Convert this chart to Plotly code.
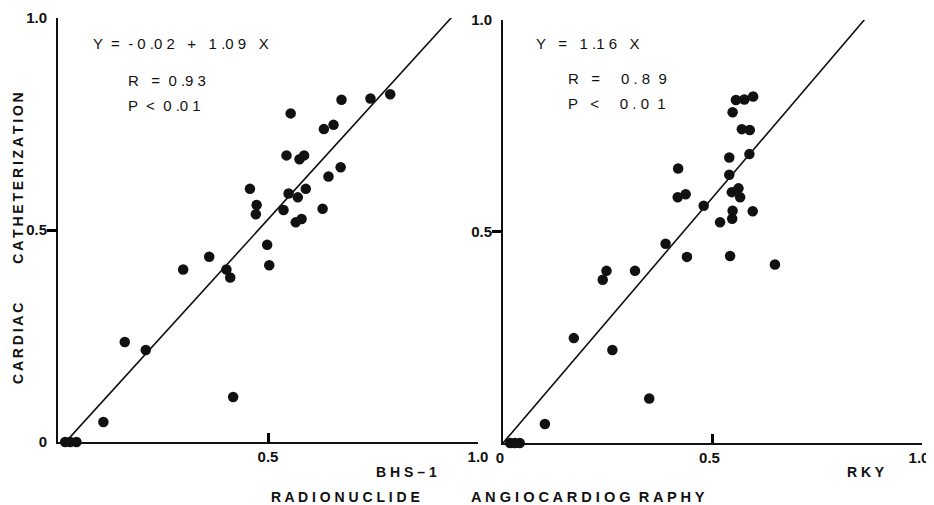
import plotly.graph_objects as go

# Left panel: BHS-1 radionuclide vs cardiac catheterization
bhs_x = [0.017, 0.029, 0.044, 0.108, 0.159, 0.209, 0.298, 0.360, 0.401, 0.410, 0.417,
         0.498, 0.503, 0.457, 0.473, 0.471, 0.537, 0.549, 0.571, 0.590, 0.566, 0.580,
         0.630, 0.544, 0.575, 0.586, 0.644, 0.673, 0.633, 0.656, 0.554, 0.675, 0.744, 0.791]
bhs_y = [0.0, 0.0, 0.0, 0.047, 0.236, 0.217, 0.407, 0.437, 0.407, 0.388, 0.106,
         0.465, 0.417, 0.597, 0.559, 0.537, 0.547, 0.586, 0.577, 0.597, 0.518, 0.526,
         0.550, 0.676, 0.667, 0.676, 0.626, 0.648, 0.738, 0.748, 0.775, 0.807, 0.810, 0.820]

# Right panel: RKY vs cardiac catheterization
rky_x = [0.017, 0.028, 0.040, 0.100, 0.169, 0.261, 0.238, 0.247, 0.315, 0.349, 0.388,
         0.439, 0.542, 0.649, 0.417, 0.436, 0.418, 0.479, 0.518, 0.547, 0.548, 0.596,
         0.546, 0.562, 0.566, 0.540, 0.540, 0.588, 0.570, 0.589, 0.548, 0.556, 0.576, 0.597]
rky_y = [0.0, 0.0, 0.0, 0.045, 0.248, 0.220, 0.386, 0.407, 0.407, 0.105, 0.471,
         0.440, 0.442, 0.422, 0.581, 0.588, 0.649, 0.561, 0.522, 0.530, 0.549, 0.548,
         0.593, 0.602, 0.581, 0.634, 0.675, 0.683, 0.742, 0.740, 0.782, 0.811, 0.812, 0.819]

# Regression fits
left_intercept, left_slope = -0.02, 1.09
right_intercept, right_slope = 0.0, 1.16
left_fit_x = [0.018, 0.94]
right_fit_x = [0.0, 0.88]

# Tick labels per axis
left_x_ticks, left_x_text = [0.5, 1.0], ["0.5", "1.0"]
left_y_ticks, left_y_text = [0, 0.5, 1.0], ["0", "0.5", "1.0"]
right_x_ticks, right_x_text = [0, 0.5, 1.0], ["0", "0.5", "1.0"]
right_y_ticks, right_y_text = [0.5, 1.0], ["0.5", "1.0"]
y_out_ticks = [0.5]     # ticks pointing outward on y axes
y_in_ticks = [1.0]      # top tick pointing inward (corner mark)

fig = go.Figure()
ink = "#111111"

fig.add_trace(go.Scatter(x=bhs_x, y=bhs_y, mode="markers", xaxis="x", yaxis="y",
                         marker=dict(size=10.5, color=ink), cliponaxis=False, showlegend=False))
fig.add_trace(go.Scatter(x=left_fit_x, y=[left_intercept + left_slope * v for v in left_fit_x],
                         mode="lines", xaxis="x", yaxis="y", line=dict(color=ink, width=1.6),
                         cliponaxis=False, showlegend=False))
fig.add_trace(go.Scatter(x=rky_x, y=rky_y, mode="markers", xaxis="x2", yaxis="y2",
                         marker=dict(size=10.5, color=ink), cliponaxis=False, showlegend=False))
fig.add_trace(go.Scatter(x=right_fit_x, y=[right_intercept + right_slope * v for v in right_fit_x],
                         mode="lines", xaxis="x2", yaxis="y2", line=dict(color=ink, width=1.6),
                         cliponaxis=False, showlegend=False))
# empty traces so the tick-only overlay axes get drawn
for xa, ya in [("x", "y3"), ("x", "y4"), ("x2", "y5"), ("x2", "y6")]:
    fig.add_trace(go.Scatter(x=[None], y=[None], xaxis=xa, yaxis=ya, mode="markers",
                             hoverinfo="skip", showlegend=False))

# Page has an 8px body margin; figure sized to fill the rest of the 934x505 window
OFF = 8
W, H = 934 - OFF, 505 - OFF


def fx(px):
    return (px - OFF) / W


def fy(py):
    return 1 - (py - OFF) / H


tickfont = dict(family="Liberation Sans, Arial, sans-serif", size=15, color=ink)
axcommon = dict(range=[0, 1.0], showgrid=False, zeroline=False, showline=True,
                linecolor=ink, linewidth=2, ticklen=9, tickwidth=2.5, tickcolor="black",
                tickfont=tickfont, automargin=False, layer="above traces")
overlay = dict(range=[0, 1.0], showgrid=False, zeroline=False, showline=False,
               showticklabels=False, ticklen=10, tickwidth=2.5, tickcolor="black",
               automargin=False, tickmode="array")


def bold(lst):
    return ["<b>%s</b>" % s for s in lst]


fig.update_layout(
    width=W, height=H,
    margin=dict(l=0, r=0, t=0, b=0, autoexpand=False),
    paper_bgcolor="white", plot_bgcolor="white",
    xaxis=dict(domain=[fx(58), fx(478)], anchor="y", ticks="inside", tickmode="array",
               tickvals=left_x_ticks, ticktext=bold(left_x_text), **axcommon),
    yaxis=dict(domain=[fy(442), fy(18)], anchor="x", ticks="", ticklabelstandoff=6,
               tickmode="array", tickvals=left_y_ticks, ticktext=bold(left_y_text), **axcommon),
    xaxis2=dict(domain=[fx(503), fx(922)], anchor="y2", ticks="inside", ticklabelshift=-3,
                tickmode="array", tickvals=right_x_ticks, ticktext=bold(right_x_text), **axcommon),
    yaxis2=dict(domain=[fy(443), fy(20)], anchor="x2", ticks="", ticklabelstandoff=6,
                tickmode="array", tickvals=right_y_ticks, ticktext=bold(right_y_text), **axcommon),
    yaxis3=dict(overlaying="y", anchor="x", ticks="outside", tickvals=y_out_ticks, **overlay),
    yaxis4=dict(overlaying="y", anchor="x", ticks="inside", tickvals=y_in_ticks, **overlay),
    yaxis5=dict(overlaying="y2", anchor="x2", ticks="outside", tickvals=y_out_ticks, **overlay),
    yaxis6=dict(overlaying="y2", anchor="x2", ticks="inside", tickvals=y_in_ticks, **overlay),
)

ann_font = dict(family="Liberation Sans, Arial, sans-serif", size=15, color=ink)
bold_font = dict(family="Liberation Sans, Arial, sans-serif", size=14, color=ink)
anns = [
    ("Y  =  - 0 .0 2   +   1 .0 9   X", 92, 43),
    ("R   =  0 .9 3", 127, 81),
    ("P  <  0 .0 1", 127, 105),
    ("Y   =   1 .1 6   X", 535, 43),
    ("R   =     0 . 8  9", 567, 78),
    ("P   <     0 . 0  1", 567, 103),
]
for t, px, py in anns:
    fig.add_annotation(text=t, x=fx(px), y=fy(py), xref="paper", yref="paper",
                       xanchor="left", yanchor="middle", showarrow=False, font=ann_font,
                       borderpad=0)

titles = [
    ("<b>B H S – 1</b>", 406, 472, 14),
    ("<b>R K Y</b>", 866, 472, 14),
    ("<b>R A D I O N U C L I D E</b>", 345, 497, 14),
    ("<b>A N G I O C A R D I O G  R A P H Y</b>", 588, 497, 14.6),
]
for t, px, py, sz in titles:
    fig.add_annotation(text=t, x=fx(px), y=fy(py), xref="paper", yref="paper",
                       xanchor="center", yanchor="middle", showarrow=False,
                       font=dict(bold_font, size=sz))

ts = "\u2009"
cardiac = ts.join("CARDIAC")
cath = ts.join("CATHETERIZATION")
fig.add_annotation(text="<b>%s          %s</b>" % (cardiac, cath),
                   x=fx(18), y=fy(238), xref="paper", yref="paper", textangle=-90,
                   xanchor="center", yanchor="middle", showarrow=False, font=bold_font)

fig.write_html("out.html")
